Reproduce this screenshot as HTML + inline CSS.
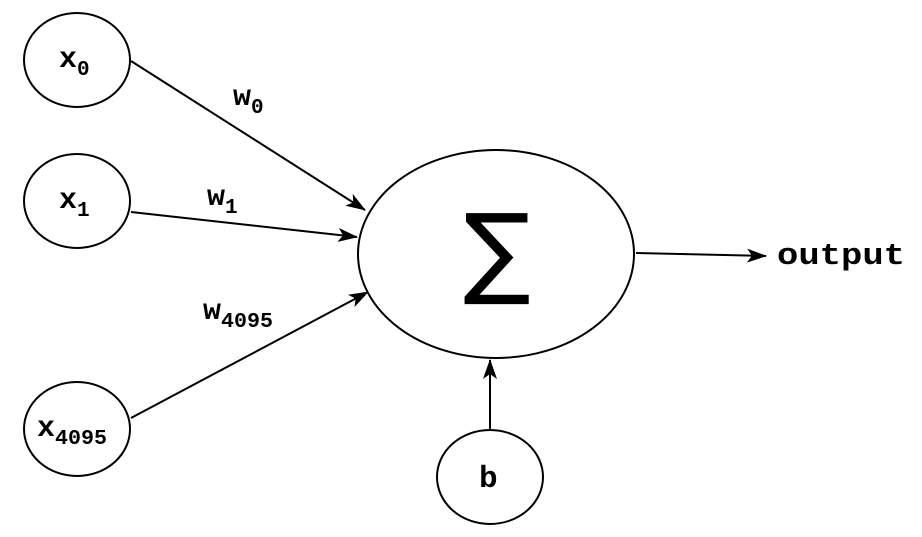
<!DOCTYPE html>
<html><head><style>
html,body{margin:0;padding:0;background:#fff;}
svg{display:block;}
.t{font-family:"Liberation Mono",monospace;font-weight:bold;fill:#000;}
</style></head><body>
<svg width="922" height="537" viewBox="0 0 922 537" xmlns="http://www.w3.org/2000/svg">
<defs>
<marker id="a" markerWidth="20" markerHeight="14" refX="19" refY="7" orient="auto" markerUnits="userSpaceOnUse">
<path d="M0,0 L20,7 L0,14 L5,7 Z" fill="#000"/>
</marker>
</defs>
<g fill="none" stroke="#000" stroke-width="2">
<ellipse cx="77" cy="60" rx="53" ry="47"/>
<ellipse cx="77" cy="201" rx="53" ry="47"/>
<ellipse cx="77" cy="429" rx="53" ry="47"/>
<ellipse cx="490" cy="477" rx="53" ry="47"/>
<ellipse cx="496" cy="254" rx="138" ry="104"/>
<line x1="131" y1="61" x2="365" y2="210" marker-end="url(#a)"/>
<line x1="131" y1="212" x2="357" y2="237" marker-end="url(#a)"/>
<line x1="131" y1="418" x2="368" y2="292" marker-end="url(#a)"/>
<line x1="490" y1="430" x2="490" y2="360" marker-end="url(#a)"/>
<line x1="636" y1="253" x2="766" y2="256" marker-end="url(#a)"/>
</g>
<text class="t" x="59" y="67" font-size="30">x<tspan font-size="21" dy="8">0</tspan></text>
<text class="t" x="59" y="208" font-size="30">x<tspan font-size="21" dy="8">1</tspan></text>
<text class="t" x="37" y="436" font-size="30">x<tspan font-size="21" dy="8" textLength="52" lengthAdjust="spacingAndGlyphs">4095</tspan></text>
<text class="t" x="479" y="487" font-size="31">b</text>
<text class="t" x="233" y="105" font-size="30">w<tspan font-size="21" dy="8">0</tspan></text>
<text class="t" x="207" y="205" font-size="30">w<tspan font-size="21" dy="8">1</tspan></text>
<text class="t" x="203" y="319" font-size="30">w<tspan font-size="21" dy="8" textLength="52" lengthAdjust="spacingAndGlyphs">4095</tspan></text>
<text class="t" x="777" y="264" font-size="31" textLength="128" lengthAdjust="spacingAndGlyphs">output</text>
<text x="497" y="285" font-size="100" text-anchor="middle" font-family="DejaVu Sans,sans-serif" font-weight="normal" fill="#000">∑</text>
</svg>
</body></html>
